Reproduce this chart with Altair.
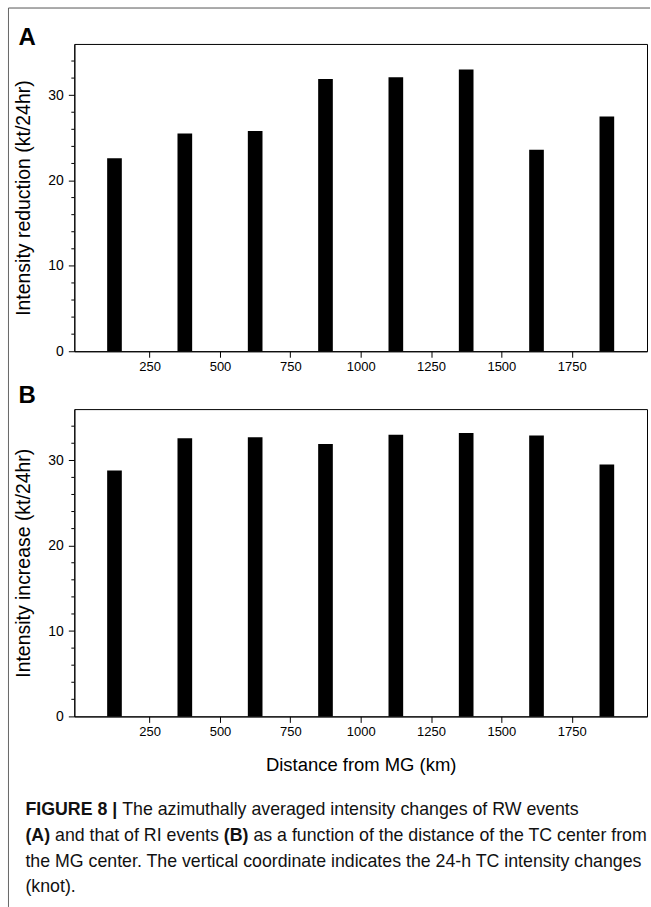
import altair as alt
import pandas as pd

# Distance of the TC center from the MG center (bin centres, km)
distance_km = [125, 375, 625, 875, 1125, 1375, 1625, 1875]
# 24-h intensity reduction of RW events (kt/24hr)
rw_reduction = [22.6, 25.5, 25.8, 31.9, 32.1, 33.0, 23.6, 27.5]
# 24-h intensity increase of RI events (kt/24hr)
ri_increase = [28.8, 32.6, 32.7, 31.9, 33.0, 33.2, 32.9, 29.5]

x_tick_values = [250, 500, 750, 1000, 1250, 1500, 1750]
y_tick_values = [0, 10, 20, 30]
y_minor_values = [2, 4, 6, 8, 12, 14, 16, 18, 22, 24, 26, 28, 32, 34]

caption_lines = [
    [("FIGURE 8 |", "bold"), ("The azimuthally averaged intensity changes of RW events", "normal")],
    [("(A)", "bold"), ("and that of RI events", "normal"), ("(B)", "bold"),
     ("as a function of the distance of the TC center from", "normal")],
    [("the MG center. The vertical coordinate indicates the 24-h TC intensity changes", "normal")],
    [("(knot).", "normal")],
]

FONT = "Liberation Sans"
W, H = 574, 308
GAP = 58
CAP_SIZE = 17.8

x_scale = alt.Scale(domain=[0, 2000], nice=False, zero=False)
y_scale = alt.Scale(domain=[0, 36], nice=False)


def one_row():
    return alt.Data(values=[{}])


def text_width(s, bold):
    # Arial/Liberation Sans advance widths (em) for the glyphs used here
    w = {
        " ": .278, "(": .333, ")": .333, "|": .26 if not bold else .28, ".": .278, "-": .333,
        "A": .667, "B": .667, "C": .722, "E": .667, "F": .611, "G": .778, "I": .278,
        "M": .833, "R": .722, "T": .611, "U": .722, "W": .944, "8": .556, "2": .556, "4": .556,
        "a": .556, "b": .556, "c": .5, "d": .556, "e": .556, "f": .278, "g": .556, "h": .556,
        "i": .222, "k": .5, "l": .222, "m": .833, "n": .556, "o": .556, "r": .333, "s": .5,
        "t": .278, "u": .556, "v": .5, "y": .5, "z": .5,
    }
    wb = {"A": .722, "B": .722, "F": .611, "I": .278, "G": .778, "U": .722, "R": .722, "E": .667}
    total = 0.0
    for ch in s:
        if bold and ch in wb:
            total += wb[ch]
        else:
            total += w.get(ch, .556)
    return total * CAP_SIZE


def panel(values, y_title, letter, x_title, letter_y, with_caption):
    df = pd.DataFrame({"distance": distance_km, "value": values})
    y_axis = alt.Axis(
        values=y_tick_values, title=y_title, grid=False, tickSize=6, labelPadding=5,
        labelFontSize=14, titleFontSize=19.5, titleFontWeight="normal", titlePadding=14,
        domainColor="black", tickColor="black", labelColor="black", titleColor="black",
    )
    x_axis = alt.Axis(
        values=x_tick_values, format="d", title=x_title, grid=False, tickSize=6,
        labelPadding=3, labelFontSize=13, titleFontSize=18.5, titleFontWeight="normal",
        titlePadding=17, domainColor="black", tickColor="black", labelColor="black",
        titleColor="black",
    )
    bars = alt.Chart(df).mark_bar(color="black", size=14.7, orient="vertical").encode(
        x=alt.X("distance:Q", scale=x_scale, axis=x_axis),
        y=alt.Y("value:Q", scale=y_scale, axis=y_axis),
    )
    minor = alt.Chart(pd.DataFrame({"value": y_minor_values})).mark_rule(
        color="black", strokeWidth=1
    ).encode(
        y=alt.Y("value:Q", scale=y_scale, axis=y_axis),
        x=alt.value(-3),
        x2=alt.value(0),
    )
    label = alt.Chart(one_row()).mark_text(
        font=FONT, fontSize=24, fontWeight="bold", align="left", baseline="alphabetic",
        color="black",
    ).encode(text=alt.value(letter), x=alt.value(-56), y=alt.value(letter_y))
    layers = [bars, minor, label]
    if with_caption:
        base_y = 406.5
        for i, line in enumerate(caption_lines):
            x = -49.0
            for seg, weight in line:
                layers.append(
                    alt.Chart(one_row()).mark_text(
                        font=FONT, fontSize=CAP_SIZE, fontWeight=weight, align="left",
                        baseline="alphabetic", color="#111",
                    ).encode(text=alt.value(seg), x=alt.value(x), y=alt.value(base_y + 26 * i))
                )
                x += text_width(seg, weight == "bold") + text_width(" ", False)
    else:
        # outer frame of the figure: left and top edges
        layers.append(
            alt.Chart(one_row()).mark_rule(color="#666", strokeWidth=1).encode(
                x=alt.value(-66), y=alt.value(-36), y2=alt.value(865)
            )
        )
        layers.append(
            alt.Chart(one_row()).mark_rule(color="#555", strokeWidth=1).encode(
                x=alt.value(-66), x2=alt.value(577), y=alt.value(-36)
            )
        )
    return alt.layer(*layers).properties(width=W, height=H)


panel_a = panel(rw_reduction, "Intensity reduction (kt/24hr)", "A", None, 0.7, False)
panel_b = panel(ri_increase, "Intensity increase (kt/24hr)", "B", "Distance from MG (km)", -6.5, True)

chart = alt.vconcat(panel_a, panel_b, spacing=GAP, bounds="flush").properties(
    padding={"left": 7.5, "top": 6, "right": 0, "bottom": 0},
    background="white",
).configure_view(
    stroke="black", strokeWidth=1
).configure_axis(
    labelFont=FONT, titleFont=FONT
)

chart.save("out.html", embed_options={"renderer": "svg", "actions": False})
